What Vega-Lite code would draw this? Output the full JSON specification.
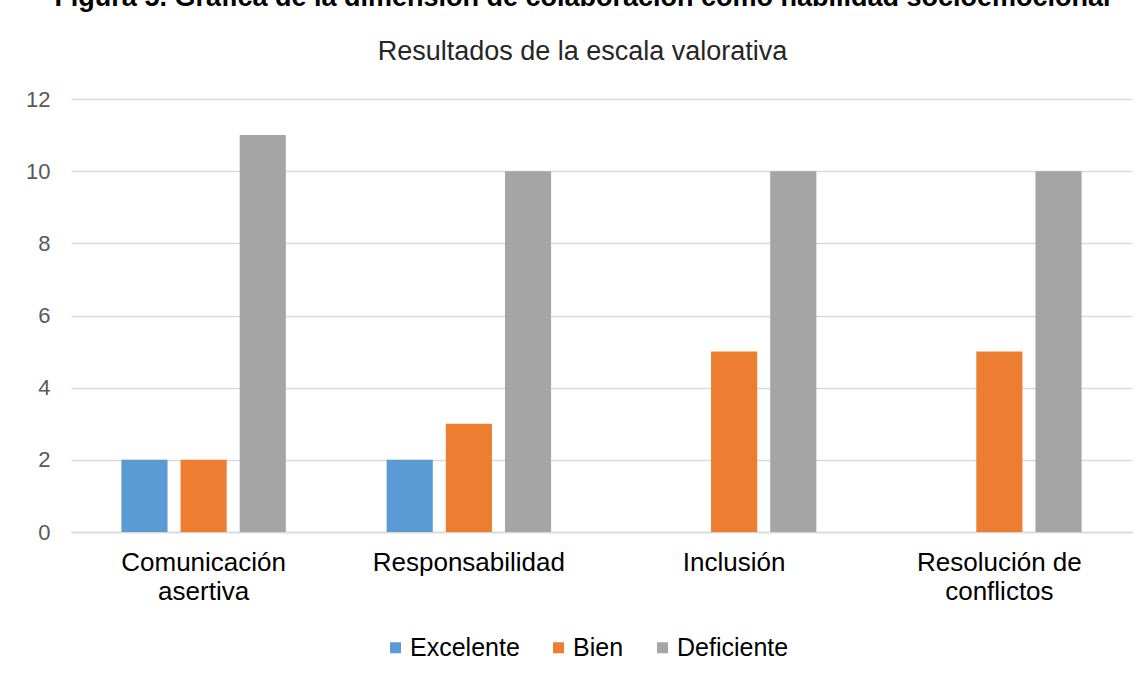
{
  "$schema": "https://vega.github.io/schema/vega-lite/v6.json",
  "autosize": {"type": "none"},
  "width": 1061,
  "height": 433,
  "padding": {"left": 71, "top": 99, "right": 14, "bottom": 147},
  "background": "white",
  "title": {
    "text": "Figura 5. Gráfica de la dimensión de colaboración como habilidad socioemocional",
    "subtitle": "Resultados de la escala valorativa",
    "anchor": "middle",
    "frame": "group",
    "font": "Liberation Sans",
    "fontSize": 27,
    "fontWeight": "bold",
    "color": "#000000",
    "dx": -19,
    "subtitleFont": "Liberation Sans",
    "subtitleFontSize": 27,
    "subtitleColor": "#262626",
    "subtitlePadding": 27,
    "offset": 22
  },
  "data": {
    "values": [
      {"categoria": "Comunicación asertiva", "nivel": "Excelente", "valor": 2},
      {"categoria": "Comunicación asertiva", "nivel": "Bien", "valor": 2},
      {"categoria": "Comunicación asertiva", "nivel": "Deficiente", "valor": 11},
      {"categoria": "Responsabilidad", "nivel": "Excelente", "valor": 2},
      {"categoria": "Responsabilidad", "nivel": "Bien", "valor": 3},
      {"categoria": "Responsabilidad", "nivel": "Deficiente", "valor": 10},
      {"categoria": "Inclusión", "nivel": "Excelente", "valor": 0},
      {"categoria": "Inclusión", "nivel": "Bien", "valor": 5},
      {"categoria": "Inclusión", "nivel": "Deficiente", "valor": 10},
      {"categoria": "Resolución de conflictos", "nivel": "Excelente", "valor": 0},
      {"categoria": "Resolución de conflictos", "nivel": "Bien", "valor": 5},
      {"categoria": "Resolución de conflictos", "nivel": "Deficiente", "valor": 10}
    ]
  },
  "mark": {"type": "bar"},
  "encoding": {
    "x": {
      "field": "categoria",
      "type": "nominal",
      "sort": ["Comunicación asertiva", "Responsabilidad", "Inclusión", "Resolución de conflictos"],
      "scale": {"paddingInner": 0.38, "paddingOuter": 0.19},
      "axis": {
        "title": null,
        "labelAngle": 0,
        "labelFont": "Liberation Sans",
        "labelFontSize": 26,
        "labelColor": "#000000",
        "labelLineHeight": 29,
        "labelPadding": 17,
        "labelLimit": 400,
        "labelExpr": "datum.label == 'Comunicación asertiva' ? ['Comunicación', 'asertiva'] : datum.label == 'Resolución de conflictos' ? ['Resolución de', 'conflictos'] : datum.label",
        "ticks": false,
        "domainColor": "#d9d9d9",
        "domainWidth": 1.5
      }
    },
    "xOffset": {
      "field": "nivel",
      "sort": ["Excelente", "Bien", "Deficiente"],
      "scale": {"paddingInner": 0.22}
    },
    "y": {
      "field": "valor",
      "type": "quantitative",
      "scale": {"domain": [0, 12]},
      "axis": {
        "values": [0, 2, 4, 6, 8, 10, 12],
        "title": null,
        "domain": false,
        "ticks": false,
        "labelFont": "Liberation Sans",
        "labelFontSize": 22,
        "labelColor": "#595959",
        "labelPadding": 21,
        "gridColor": "#d9d9d9",
        "gridWidth": 1.5
      }
    },
    "color": {
      "field": "nivel",
      "type": "nominal",
      "sort": ["Excelente", "Bien", "Deficiente"],
      "scale": {"domain": ["Excelente", "Bien", "Deficiente"], "range": ["#5B9BD5", "#ED7D31", "#A5A5A5"]},
      "legend": {
        "title": null,
        "orient": "none",
        "legendX": 312,
        "legendY": 536,
        "direction": "horizontal",
        "symbolType": "square",
        "symbolSize": 121,
        "symbolStrokeWidth": 0,
        "labelFont": "Liberation Sans",
        "labelFontSize": 25,
        "labelColor": "#000000",
        "labelOffset": 2,
        "columnPadding": 26
      }
    }
  },
  "config": {"view": {"stroke": null}, "font": "Liberation Sans"}
}
